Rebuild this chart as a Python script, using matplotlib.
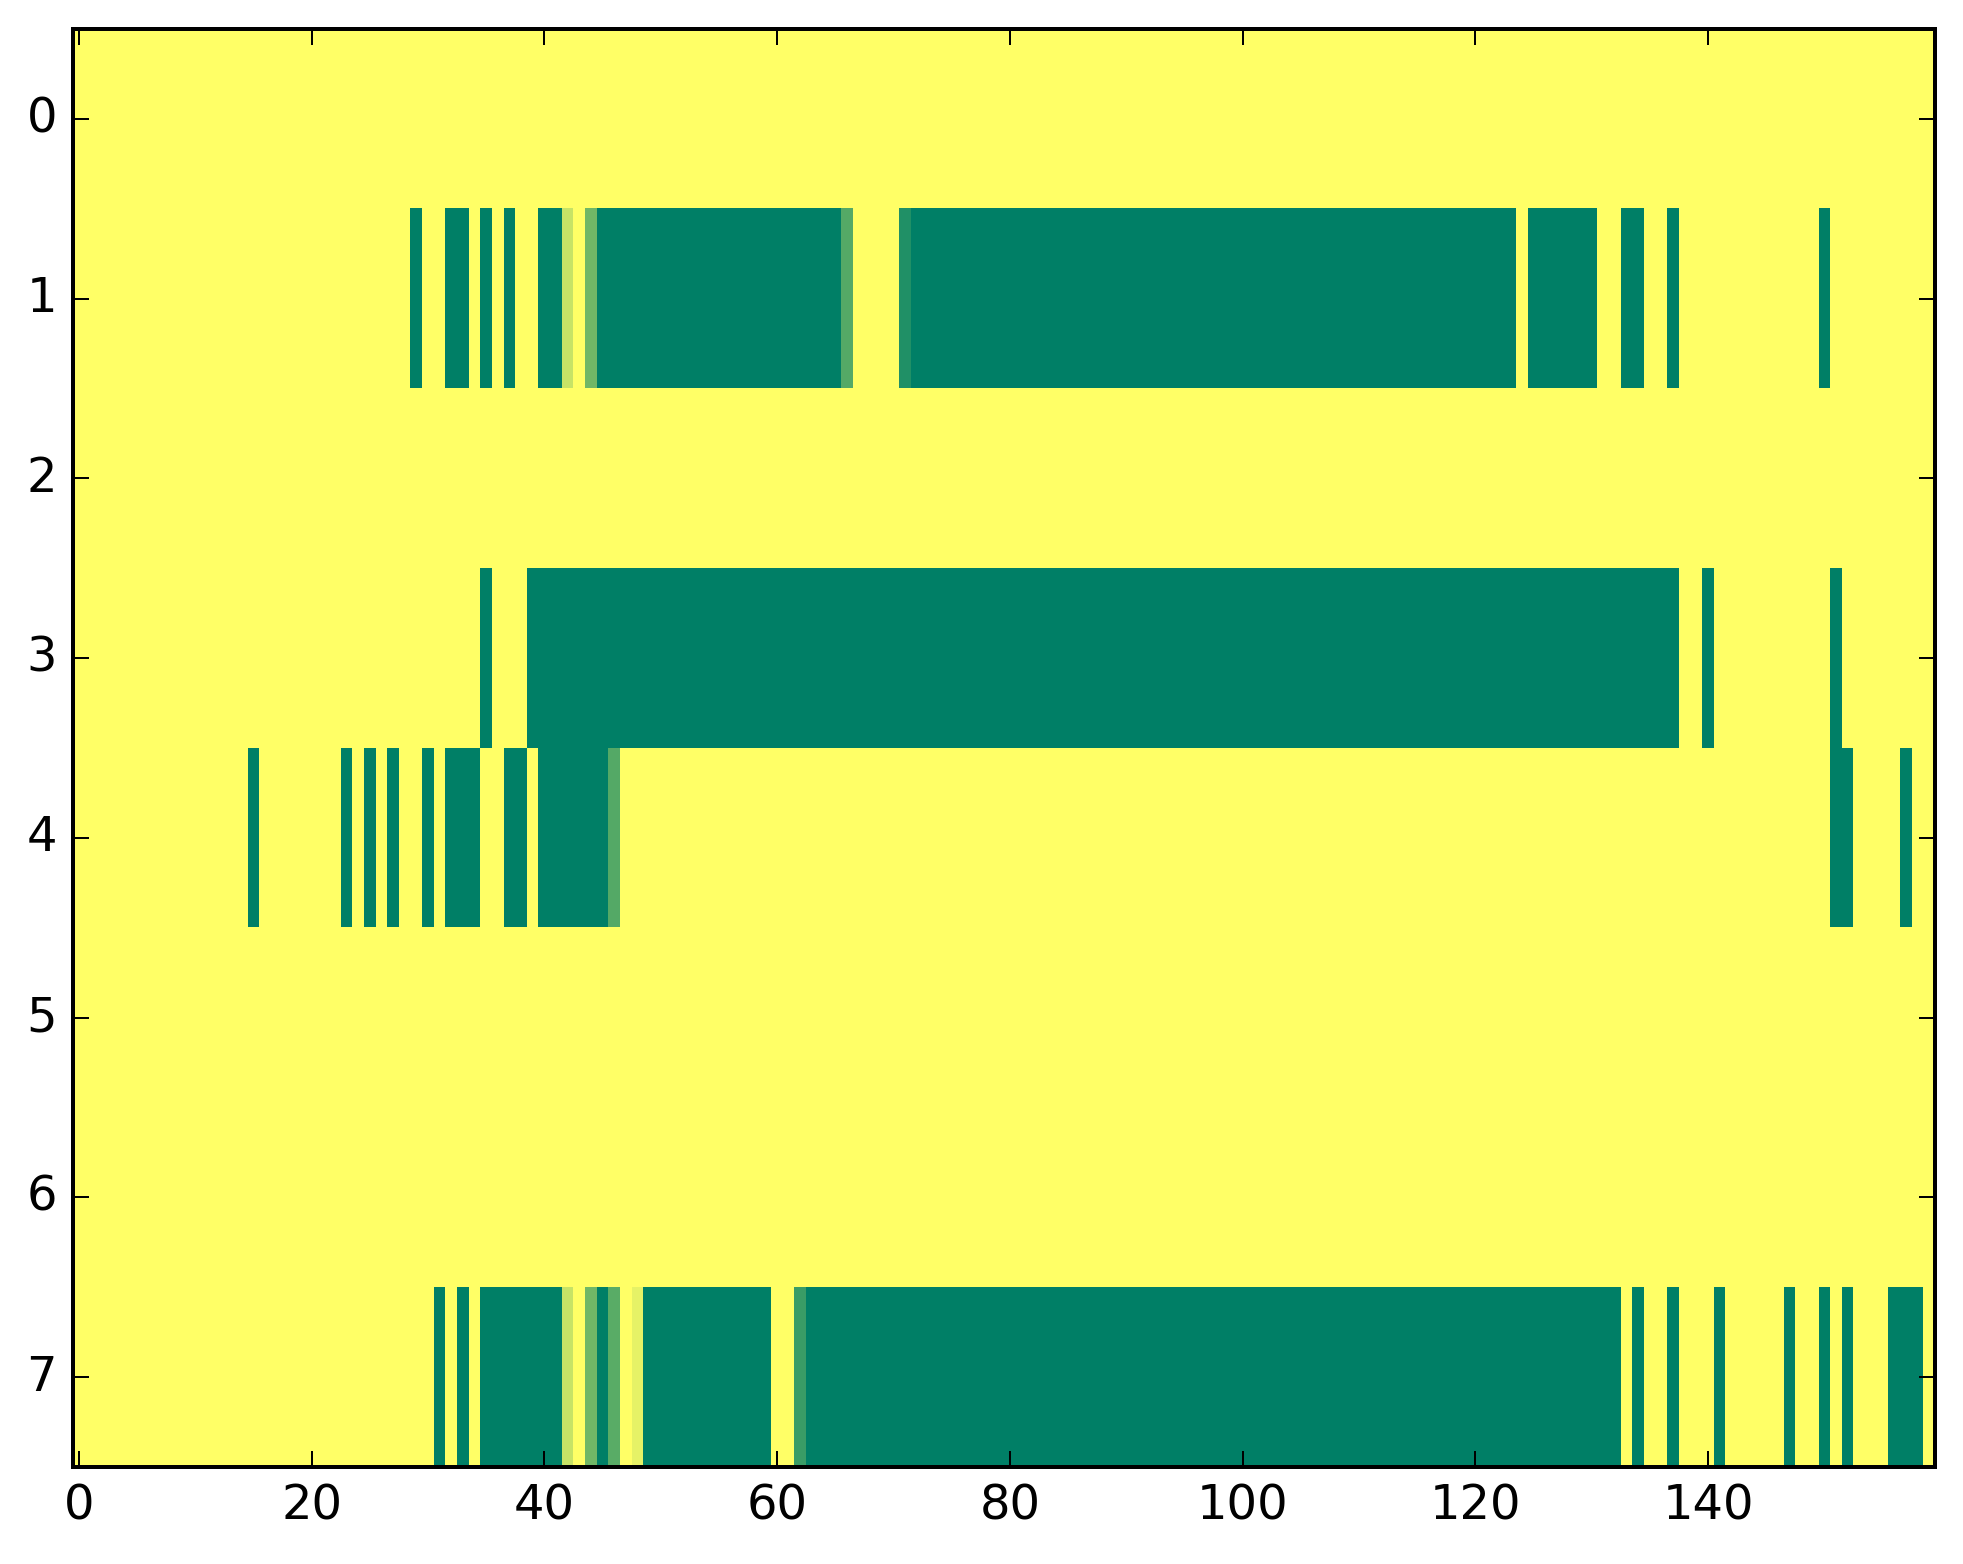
import numpy as np
import matplotlib
matplotlib.use('Agg')
import matplotlib.pyplot as plt

plt.style.use('classic')

n_rows = 8
n_cols = 160

# runs of fully "on" cells per row (first, last column, inclusive)
row1_runs = [(29, 29), (32, 33), (35, 35), (37, 37), (40, 41), (45, 65), (72, 123),
             (125, 130), (133, 134), (137, 137), (150, 150)]
row3_runs = [(35, 35), (39, 137), (140, 140), (151, 151)]
row4_runs = [(15, 15), (23, 23), (25, 25), (27, 27), (30, 30), (32, 34), (37, 38),
             (40, 45), (151, 152), (157, 157)]
row7_runs = [(31, 31), (33, 33), (35, 41), (45, 45), (49, 59), (63, 132), (134, 134),
             (137, 137), (141, 141), (147, 147), (150, 150), (152, 152), (156, 158)]

# cells with partial values (column: value)
row1_partial = {42: 0.22, 44: 0.56, 66: 0.67, 71: 0.87}
row4_partial = {46: 0.67}
row7_partial = {42: 0.22, 44: 0.56, 46: 0.65, 48: 0.10, 62: 0.77}

rows = {1: (row1_runs, row1_partial),
        3: (row3_runs, {}),
        4: (row4_runs, row4_partial),
        7: (row7_runs, row7_partial)}

data = np.zeros((n_rows, n_cols))
for r, (runs, partial) in rows.items():
    for a, b in runs:
        data[r, a:b + 1] = 1.0
    for c, v in partial.items():
        data[r, c] = v

fig = plt.figure(figsize=(1963 / 288.0, 1564 / 288.0), dpi=288, facecolor='white')
ax = fig.add_axes([73 / 1963.0, 1 - 1467 / 1564.0, (1935 - 73) / 1963.0, (1467 - 29) / 1564.0])
ax.imshow(data, cmap='summer_r', vmin=0, vmax=1, aspect='auto', interpolation='nearest')
ax.set_xlim(-0.5, n_cols - 0.5)
ax.set_ylim(n_rows - 0.5, -0.5)
ax.set_xticks(range(0, 141, 20))
ax.set_yticks(range(0, 8))

fig.savefig('out.png', dpi=288, facecolor='white')
